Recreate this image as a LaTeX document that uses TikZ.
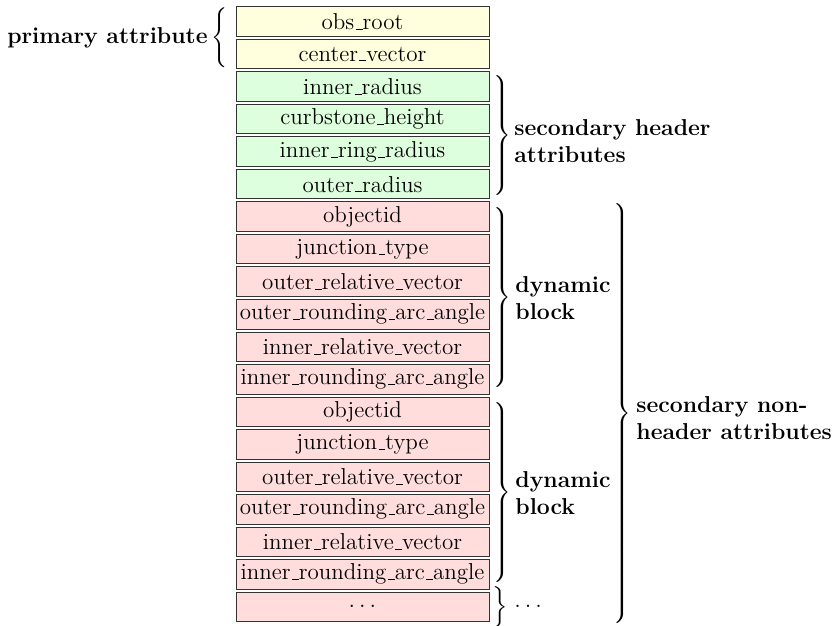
\documentclass[tikz,border=0pt]{standalone}
\usepackage{tikz}
\usepackage{graphicx}
\definecolor{cellyellow}{HTML}{FFFFDD}
\definecolor{cellgreen}{HTML}{DDFFDD}
\definecolor{cellred}{HTML}{FFDDDD}
% short baseline rule for underscores in attribute names
\renewcommand{\_}{\leavevmode\kern.06em\vbox{\hrule width.3em}}
% tall curly braces built from extensible math delimiters
\newcommand{\closebrace}[1]{{\delimitershortfall=0pt\delimiterfactor=1000
  $\left.\vcenter{\hbox{\rule{0pt}{#1}}}\right\}$}}
\newcommand{\openbrace}[1]{{\delimitershortfall=0pt\delimiterfactor=1000
  $\left\{\vcenter{\hbox{\rule{0pt}{#1}}}\right.$}}
\begin{document}
\begin{tikzpicture}[x=0.5pt,y=-0.5pt,
  every node/.style={font=\fontsize{11.5}{13.5}\selectfont},
  cell/.style={draw=black!80, line width=0.5pt, minimum width=126.5pt,
    minimum height=14.75pt, inner sep=0pt, anchor=center},
  yel/.style={cell, fill=cellyellow},
  grn/.style={cell, fill=cellgreen},
  rd/.style={cell, fill=cellred},
  bracenode/.style={inner sep=0pt, outer sep=0pt},
  lbl/.style={font=\fontsize{11.5}{13.5}\selectfont\bfseries, align=left, inner sep=0pt}]
\useasboundingbox (0,0) rectangle (833,625);
% column of attribute cells, 32.5 units per row
\def\cx{362.5}
\newcommand{\rowy}[1]{21.75+32.5*#1}
\node[yel] (r0)  at (\cx,{\rowy{0}})  {obs\_root};
\node[yel] (r1)  at (\cx,{\rowy{1}})  {center\_vector};
\node[grn] (r2)  at (\cx,{\rowy{2}})  {inner\_radius};
\node[grn] (r3)  at (\cx,{\rowy{3}})  {curbstone\_height};
\node[grn] (r4)  at (\cx,{\rowy{4}})  {inner\_ring\_radius};
\node[grn] (r5)  at (\cx,{\rowy{5}})  {outer\_radius};
\node[rd]  (r6)  at (\cx,{\rowy{6}})  {objectid};
\node[rd]  (r7)  at (\cx,{\rowy{7}})  {junction\_type};
\node[rd]  (r8)  at (\cx,{\rowy{8}})  {outer\_relative\_vector};
\node[rd]  (r9)  at (\cx,{\rowy{9}})  {outer\_rounding\_arc\_angle};
\node[rd]  (r10) at (\cx,{\rowy{10}}) {inner\_relative\_vector};
\node[rd]  (r11) at (\cx,{\rowy{11}}) {inner\_rounding\_arc\_angle};
\node[rd]  (r12) at (\cx,{\rowy{12}}) {objectid};
\node[rd]  (r13) at (\cx,{\rowy{13}}) {junction\_type};
\node[rd]  (r14) at (\cx,{\rowy{14}}) {outer\_relative\_vector};
\node[rd]  (r15) at (\cx,{\rowy{15}}) {outer\_rounding\_arc\_angle};
\node[rd]  (r16) at (\cx,{\rowy{16}}) {inner\_relative\_vector};
\node[rd]  (r17) at (\cx,{\rowy{17}}) {inner\_rounding\_arc\_angle};
\node[rd]  (r18) at (\cx,{\rowy{18}}) {$\dots$};
% primary attribute
\node[bracenode, anchor=east] (bp) at (230,37.5) {\openbrace{27pt}};
\node[lbl, anchor=east] (lp) at (208,38) {primary attribute};
% secondary header attributes
\node[bracenode, anchor=west] (bh) at (491,135.5) {\closebrace{58pt}};
\node[lbl, anchor=west] (lh) at (514,141) {secondary header\\attributes};
% dynamic blocks
\node[bracenode, anchor=west] (bd1) at (491,297.5) {\closebrace{90pt}};
\node[lbl, anchor=west] (ld1) at (515,298) {dynamic\\block};
\node[bracenode, anchor=west] (bd2) at (491,492.5) {\closebrace{90pt}};
\node[lbl, anchor=west] (ld2) at (515,493) {dynamic\\block};
% trailing cells
\node[bracenode, anchor=west] (bt) at (490,607) {\scalebox{1.15}{\closebrace{16pt}}};
\node[inner sep=0pt, anchor=west] (lt) at (514,606) {$\dots$};
% all non-header attributes
\node[bracenode, anchor=west] (bn) at (611,413.5) {\closebrace{206pt}};
\node[lbl, anchor=west] (ln) at (636,418) {secondary non-\\header attributes};
\end{tikzpicture}
\end{document}
